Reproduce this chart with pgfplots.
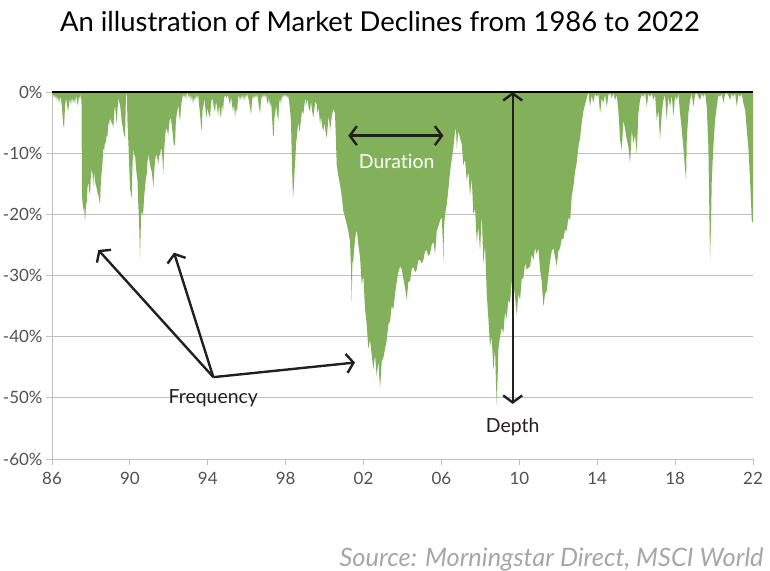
\documentclass[border=0pt]{standalone}
\usepackage{pgfplots}
\pgfplotsset{compat=1.18}
\usepackage{pgfplotstable}
\usepackage{fontspec}
\setmainfont{Lato}[Ligatures=NoCommon]
\usetikzlibrary{arrows.meta}
\definecolor{areagreen}{RGB}{130,176,91}
\definecolor{gridgray}{RGB}{191,191,191}
\definecolor{labelgray}{RGB}{80,80,80}
\definecolor{annot}{RGB}{35,31,32}
\definecolor{srcgray}{RGB}{166,166,166}

\pgfplotstableread{
x y
1986.000 0
1986.051 -0.8
1986.103 -0.3
1986.154 -1.2
1986.205 -0.4
1986.257 -1.5
1986.308 -0.6
1986.360 -2.0
1986.411 -0.8
1986.462 -1.2
1986.514 -2.5
1986.565 -5.0
1986.616 -6.0
1986.668 -2.5
1986.719 -1.0
1986.770 -2.0
1986.822 -3.2
1986.873 -2.0
1986.924 -1.0
1986.976 -2.2
1987.027 -0.8
1987.079 -1.8
1987.130 -1.0
1987.181 -2.0
1987.233 -0.5
1987.284 -1.5
1987.335 -2.3
1987.387 -0.6
1987.438 -1.2
1987.489 -0.3
1987.515 -2.0
1987.541 -17.0
1987.577 -18.4
1987.608 -19.5
1987.643 -18.5
1987.695 -21.1
1987.721 -20.0
1987.757 -17.5
1987.782 -18.4
1987.823 -15.7
1987.864 -14.6
1987.900 -16.0
1987.952 -16.8
1987.993 -14.0
1988.039 -12.5
1988.080 -13.5
1988.121 -15.5
1988.157 -13.0
1988.208 -14.6
1988.249 -15.2
1988.296 -15.7
1988.337 -16.5
1988.378 -16.8
1988.414 -17.5
1988.465 -18.4
1988.506 -15.0
1988.553 -13.0
1988.594 -11.5
1988.635 -9.2
1988.681 -9.5
1988.722 -8.1
1988.763 -8.4
1988.809 -7.0
1988.851 -7.3
1988.892 -4.8
1988.928 -5.5
1988.979 -4.2
1989.030 -4.8
1989.066 -5.0
1989.107 -5.3
1989.148 -5.9
1989.184 -4.0
1989.235 -2.1
1989.276 -3.5
1989.323 -5.3
1989.364 -3.0
1989.405 -1.0
1989.441 -1.5
1989.493 -2.1
1989.544 -3.5
1989.580 -4.8
1989.621 -5.5
1989.662 -6.4
1989.698 -7.0
1989.749 -7.5
1989.775 -4.0
1989.801 -0.4
1989.826 0
1989.852 -1.5
1989.878 -5.0
1989.919 -8.0
1989.955 -11.0
1990.006 -15.7
1990.047 -16.5
1990.094 -17.3
1990.135 -12.0
1990.176 -9.2
1990.222 -10.5
1990.263 -10.2
1990.304 -12.0
1990.350 -13.5
1990.391 -14.5
1990.432 -18.4
1990.468 -21.0
1990.504 -25.0
1990.520 -27.1
1990.545 -24.0
1990.571 -20.5
1990.607 -19.5
1990.648 -20.0
1990.689 -19.5
1990.735 -17.0
1990.777 -15.7
1990.818 -14.2
1990.864 -13.5
1990.905 -11.5
1990.946 -10.2
1990.982 -10.8
1991.033 -11.9
1991.074 -12.5
1991.121 -13.0
1991.162 -14.0
1991.203 -15.7
1991.249 -13.0
1991.290 -11.3
1991.331 -10.5
1991.377 -10.2
1991.418 -11.0
1991.459 -11.9
1991.495 -10.5
1991.547 -10.2
1991.588 -9.5
1991.634 -9.2
1991.675 -11.0
1991.716 -13.5
1991.752 -10.0
1991.804 -7.5
1991.845 -6.2
1991.891 -5.9
1991.932 -6.5
1991.973 -7.0
1992.009 -5.5
1992.061 -4.2
1992.112 -4.6
1992.148 -5.3
1992.189 -6.5
1992.230 -8.0
1992.266 -8.7
1992.317 -8.6
1992.358 -5.0
1992.405 -3.7
1992.446 -3.0
1992.487 -2.1
1992.523 -3.5
1992.574 -4.8
1992.626 -2.5
1992.662 -1.5
1992.703 -0.8
1992.744 -0.4
1992.780 -1.0
1992.831 -0.3
1992.882 -1.2
1992.934 0
1992.985 -0.5
1993.036 -1.0
1993.088 -0.3
1993.139 -1.5
1993.191 -0.5
1993.242 -2.0
1993.293 -0.8
1993.345 -1.5
1993.396 -0.4
1993.447 -1.2
1993.499 -0.3
1993.550 -2.0
1993.601 -3.5
1993.653 -5.5
1993.689 -6.4
1993.730 -3.0
1993.771 -2.5
1993.833 -1.0
1993.884 -3.0
1993.946 -4.2
1993.987 -2.5
1994.038 -3.5
1994.115 -4.2
1994.166 -2.0
1994.218 -1.0
1994.269 -1.5
1994.320 -2.8
1994.372 -3.2
1994.423 -1.5
1994.475 -2.5
1994.526 -4.0
1994.577 -2.0
1994.629 -3.5
1994.680 -4.2
1994.731 -2.0
1994.783 -3.2
1994.834 -1.0
1994.885 -0.5
1994.962 -1.0
1995.040 -0.5
1995.091 -1.5
1995.142 -2.1
1995.194 -0.8
1995.245 -2.0
1995.296 -3.2
1995.348 -2.0
1995.399 -4.2
1995.450 -2.5
1995.502 -3.5
1995.553 -1.0
1995.604 -0.5
1995.656 -1.5
1995.707 -0.5
1995.758 -1.2
1995.810 -0.3
1995.861 -1.5
1995.913 -0.5
1995.964 -1.0
1996.015 -0.3
1996.067 -0.8
1996.118 -1.5
1996.169 -2.5
1996.221 -3.7
1996.272 -1.5
1996.323 -0.5
1996.375 -1.2
1996.426 -0.4
1996.478 -1.0
1996.529 -0.3
1996.580 -1.2
1996.632 -2.5
1996.683 -3.5
1996.734 -1.5
1996.786 -0.5
1996.837 -1.0
1996.888 -0.3
1996.940 -1.0
1996.991 -0.4
1997.043 -1.5
1997.094 -2.0
1997.145 -0.8
1997.197 -2.5
1997.248 -1.5
1997.299 -4.0
1997.351 -7.0
1997.392 -7.3
1997.428 -3.5
1997.454 -4.2
1997.505 -2.0
1997.556 -3.5
1997.623 -4.8
1997.659 -2.0
1997.710 -1.0
1997.762 -2.0
1997.813 -0.5
1997.864 -1.0
1997.916 -0.3
1997.967 -0.8
1998.018 -0.4
1998.070 -1.0
1998.121 -0.5
1998.173 -1.5
1998.224 -2.8
1998.275 -5.0
1998.311 -10.2
1998.342 -14.0
1998.378 -17.3
1998.419 -15.5
1998.455 -13.0
1998.496 -11.0
1998.532 -8.5
1998.568 -7.5
1998.609 -6.0
1998.660 -5.0
1998.702 -6.5
1998.738 -5.9
1998.789 -4.5
1998.840 -3.0
1998.907 -3.7
1998.969 -2.0
1999.020 -1.0
1999.082 -2.1
1999.123 -1.0
1999.174 -2.5
1999.251 -3.2
1999.303 -1.5
1999.354 -3.0
1999.421 -4.2
1999.482 -2.5
1999.534 -1.5
1999.595 -2.1
1999.636 -3.5
1999.688 -2.5
1999.765 -5.3
1999.816 -4.0
1999.867 -5.5
1999.934 -6.4
1999.996 -5.0
2000.047 -6.5
2000.109 -7.5
2000.150 -6.0
2000.201 -4.0
2000.242 -4.8
2000.279 -6.4
2000.366 -4.0
2000.448 -2.8
2000.535 -3.5
2000.622 -11.9
2000.705 -13.7
2000.792 -15.2
2000.879 -17.0
2000.961 -19.5
2001.049 -20.5
2001.136 -21.6
2001.218 -22.7
2001.305 -24.5
2001.357 -29.0
2001.393 -34.2
2001.424 -28.0
2001.475 -27.5
2001.562 -24.0
2001.650 -22.5
2001.732 -25.0
2001.819 -27.0
2001.906 -31.5
2001.989 -30.0
2002.076 -35.5
2002.163 -38.0
2002.245 -42.0
2002.333 -40.5
2002.420 -43.0
2002.502 -45.4
2002.589 -43.0
2002.677 -46.5
2002.759 -44.0
2002.846 -48.4
2002.898 -46.0
2002.934 -44.0
2003.016 -43.5
2003.103 -42.0
2003.191 -40.5
2003.273 -38.0
2003.360 -37.5
2003.447 -35.0
2003.530 -35.5
2003.617 -33.0
2003.704 -31.0
2003.786 -29.5
2003.874 -28.5
2003.961 -29.0
2004.043 -30.5
2004.130 -32.0
2004.218 -34.0
2004.300 -31.0
2004.387 -31.0
2004.474 -29.0
2004.557 -28.6
2004.644 -29.5
2004.731 -29.0
2004.813 -27.5
2004.901 -27.5
2004.988 -28.0
2005.070 -27.5
2005.157 -26.0
2005.245 -25.9
2005.327 -26.8
2005.414 -26.5
2005.501 -25.0
2005.584 -24.5
2005.671 -26.5
2005.758 -22.7
2005.840 -22.0
2005.928 -21.0
2006.015 -20.5
2006.067 -24.0
2006.097 -28.0
2006.134 -22.0
2006.185 -20.0
2006.272 -18.4
2006.354 -16.0
2006.442 -13.0
2006.529 -11.0
2006.611 -9.2
2006.698 -6.4
2006.750 -5.9
2006.786 -9.2
2006.868 -6.4
2006.955 -7.5
2007.043 -8.5
2007.125 -12.0
2007.212 -11.0
2007.299 -14.5
2007.382 -13.0
2007.469 -17.0
2007.556 -14.0
2007.638 -20.0
2007.726 -19.0
2007.813 -24.5
2007.895 -22.0
2007.983 -26.0
2008.070 -20.0
2008.152 -28.0
2008.239 -25.0
2008.327 -33.0
2008.409 -37.0
2008.496 -41.6
2008.583 -40.0
2008.666 -45.5
2008.753 -42.0
2008.804 -48.0
2008.840 -51.0
2008.892 -46.0
2008.923 -42.0
2009.010 -40.0
2009.097 -38.5
2009.179 -39.5
2009.267 -36.0
2009.354 -37.0
2009.436 -34.0
2009.523 -34.5
2009.611 -31.0
2009.693 -31.0
2009.780 -33.5
2009.867 -36.5
2009.950 -33.0
2010.037 -34.0
2010.124 -30.5
2010.206 -30.5
2010.294 -28.0
2010.381 -29.0
2010.551 -28.5
2010.638 -26.5
2010.720 -27.5
2010.807 -25.5
2010.895 -26.5
2010.977 -25.5
2011.064 -29.0
2011.151 -31.0
2011.234 -35.1
2011.321 -33.0
2011.408 -32.5
2011.490 -30.0
2011.578 -27.7
2011.665 -26.0
2011.747 -25.5
2011.835 -27.0
2011.922 -28.5
2012.004 -26.0
2012.091 -25.5
2012.179 -24.0
2012.261 -24.0
2012.348 -22.5
2012.435 -22.7
2012.518 -20.5
2012.605 -21.0
2012.692 -17.0
2012.774 -15.5
2012.862 -13.0
2012.949 -11.5
2013.031 -9.0
2013.119 -7.5
2013.206 -5.0
2013.288 -3.2
2013.375 -2.0
2013.463 -1.0
2013.545 0
2013.632 -2.4
2013.719 -0.5
2013.801 -1.8
2013.890 -0.3
2013.976 -0.8
2014.060 -0.3
2014.146 -3.5
2014.233 -1.0
2014.315 -1.8
2014.400 -0.4
2014.490 -2.4
2014.572 -0.5
2014.660 -0.2
2014.747 -1.0
2014.830 -0.2
2014.917 -1.3
2015.000 -0.5
2015.086 -3.0
2015.173 -7.8
2015.261 -9.5
2015.343 -4.6
2015.430 -6.0
2015.517 -7.8
2015.600 -8.9
2015.687 -11.7
2015.774 -6.2
2015.856 -8.4
2015.940 -7.0
2016.031 -10.0
2016.113 -3.5
2016.200 -1.3
2016.290 -0.4
2016.370 -0.8
2016.460 -0.2
2016.544 -2.4
2016.630 -0.3
2016.714 -0.8
2016.800 -0.2
2016.883 -1.3
2016.970 -0.4
2017.058 -4.6
2017.140 -3.0
2017.227 -7.8
2017.315 -3.5
2017.397 -1.3
2017.480 -0.5
2017.572 -4.6
2017.650 -0.8
2017.741 -2.4
2017.830 -0.5
2017.911 -4.0
2018.000 -0.6
2018.085 -1.3
2018.170 -0.3
2018.255 -3.5
2018.342 -6.2
2018.424 -9.0
2018.512 -12.7
2018.563 -14.4
2018.599 -7.8
2018.681 -3.5
2018.768 -1.3
2018.850 -0.3
2018.938 -2.4
2019.025 -0.4
2019.113 -0.2
2019.200 -0.8
2019.282 -1.3
2019.370 -0.3
2019.452 -0.8
2019.540 -0.2
2019.626 -2.4
2019.708 -9.0
2019.796 -27.5
2019.847 -20.9
2019.883 -14.4
2019.965 -8.9
2020.052 -4.6
2020.140 -2.4
2020.220 -0.5
2020.309 -0.8
2020.390 -0.2
2020.479 -1.8
2020.570 -0.3
2020.653 -0.2
2020.740 -0.6
2020.823 -1.3
2020.910 -0.3
2020.992 -0.8
2021.080 -0.2
2021.167 -2.4
2021.250 -0.4
2021.336 -0.8
2021.420 -0.3
2021.506 -1.8
2021.600 -3.0
2021.680 -6.2
2021.762 -9.0
2021.850 -14.4
2021.937 -20.9
2022.000 -21.5
}\drawdown

\begin{document}
\begin{tikzpicture}[>={Straight Barb[length=7bp,width=19bp]}]
\path[use as bounding box] (0,0) rectangle (770bp,571bp);
\node[anchor=base, font=\fontsize{27.5}{32}\selectfont] at (380bp,539bp) {An illustration of Market Declines from 1986 to 2022};
\node[anchor=base east, font=\fontsize{25.5}{30}\selectfont\itshape, text=srcgray] at (767bp,5bp) {Source: Morningstar Direct, MSCI World};
\begin{axis}[
  at={(52bp,112bp)}, anchor=south west, scale only axis,
  width=701bp, height=367bp,
  xmin=1986, xmax=2022, ymin=-60, ymax=0,
  axis x line*=bottom, axis y line*=left,
  axis line style={draw=gridgray, line width=1pt, -},
  xtick={1986,1990,...,2022},
  xticklabels={86,90,94,98,02,06,10,14,18,22},
  ytick={-60,-50,...,0},
  yticklabels={-60\%,-50\%,-40\%,-30\%,-20\%,-10\%,0\%},
  tick align=outside, major tick length=6bp,
  tick style={draw=gridgray, line width=1pt},
  ticklabel style={font=\fontsize{17}{20}\selectfont, text=labelgray},
  xticklabel style={yshift=-4bp},
  ymajorgrids, grid style={draw=gridgray, line width=1pt},
  clip=false,
]
\addplot[fill=areagreen, draw=none] table[x=x,y=y] {\drawdown} \closedcycle;
\draw[black, line width=1.2pt] (axis cs:1986,0) -- (axis cs:2022,0);
\draw[annot, line width=2.4pt, <->] (axis cs:2001.22,-7.14) -- (axis cs:2006.10,-7.14);
\node[text=white, font=\fontsize{19.5}{23}\selectfont] at (axis cs:2003.70,-11.4) {Duration};
\draw[annot, line width=2.4pt, <->] (axis cs:2009.66,0) -- (axis cs:2009.66,-51);
\node[text=annot, font=\fontsize{19.5}{23}\selectfont] at (axis cs:2009.66,-54.7) {Depth};
\draw[annot, line width=2.4pt, ->] (axis cs:1994.285,-46.62) -- (axis cs:1988.378,-25.82);
\draw[annot, line width=2.4pt, ->] (axis cs:1994.285,-46.62) -- (axis cs:1992.266,-26.26);
\draw[annot, line width=2.4pt, ->] (axis cs:1994.285,-46.62) -- (axis cs:2001.562,-44.23);
\node[text=annot, font=\fontsize{19.5}{23}\selectfont] at (axis cs:1994.285,-50.05) {Frequency};
\end{axis}
\end{tikzpicture}
\end{document}
